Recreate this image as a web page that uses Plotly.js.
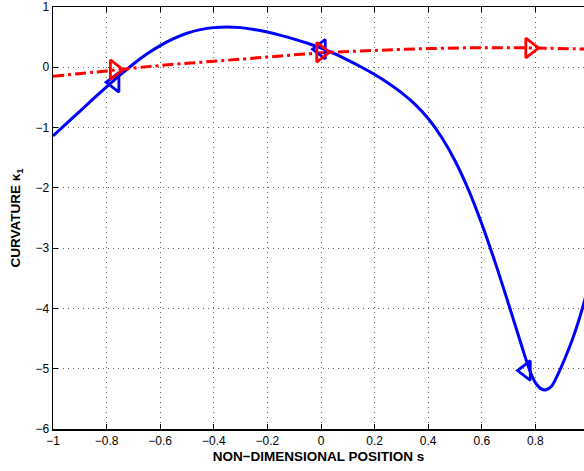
<!DOCTYPE html>
<html><head><meta charset="utf-8">
<script src="https://cdn.plot.ly/plotly-3.0.1.min.js"></script>
<style>html,body{margin:0;padding:0;overflow:hidden;background:#fff}</style>
</head><body><div id="chart" style="width:584px;height:471px"></div>
<script>
// Blue curve (kappa_1, solid)
const blueS = [-1.0, -0.95, -0.9, -0.85, -0.8, -0.75, -0.7, -0.65, -0.6, -0.55, -0.5, -0.45, -0.4, -0.35, -0.3, -0.25, -0.2, -0.15, -0.1, -0.05, 0.0, 0.05, 0.1, 0.15, 0.2, 0.25, 0.3, 0.35, 0.4, 0.45, 0.5, 0.55, 0.6, 0.65, 0.7, 0.75, 0.78, 0.8, 0.82, 0.84, 0.86, 0.88, 0.91, 0.94, 0.97, 1.0];
const blueK = [-1.14, -0.935, -0.73, -0.525, -0.325, -0.13, 0.055, 0.22, 0.36, 0.475, 0.565, 0.625, 0.658, 0.668, 0.658, 0.628, 0.584, 0.53, 0.468, 0.398, 0.32, 0.225, 0.12, 0.005, -0.12, -0.26, -0.42, -0.61, -0.85, -1.16, -1.55, -2.03, -2.60, -3.24, -3.93, -4.64, -5.04, -5.23, -5.33, -5.35, -5.29, -5.13, -4.83, -4.49, -4.08, -3.60];
// Red curve (dash-dot)
const redS = [-1.0, -0.8, -0.6, -0.4, -0.2, 0.0, 0.2, 0.4, 0.6, 0.8, 1.0];
const redK = [-0.15, -0.06, 0.03, 0.10, 0.17, 0.24, 0.28, 0.31, 0.325, 0.32, 0.30];
// Markers
const blueMarkS = [-0.77, 0.0, 0.765];
const blueMarkK = [-0.25, 0.30, -5.03];
const redMarkS = [-0.77, 0.0, 0.78];
const redMarkK = [-0.04, 0.25, 0.32];
const xTicks = [-1, -0.8, -0.6, -0.4, -0.2, 0, 0.2, 0.4, 0.6, 0.8, 1];
const yTicks = [-6, -5, -4, -3, -2, -1, 0, 1];

const traces = [
  {x: blueS, y: blueK, mode: 'lines', line: {color: '#0000ff', width: 3, shape: 'spline', smoothing: 1}, hoverinfo: 'skip'},
  {x: redS, y: redK, mode: 'lines', line: {color: '#ff0000', width: 3, dash: '11px,4px,3px,4px', shape: 'spline'}, hoverinfo: 'skip'},
  {x: blueMarkS, y: blueMarkK, mode: 'markers', marker: {symbol: 'triangle-left-open', size: 17, color: '#0000ff', line: {width: 2.8, color: '#0000ff'}}},
  {x: redMarkS, y: redMarkK, mode: 'markers', marker: {symbol: 'triangle-right-open', size: 17, color: '#ff0000', line: {width: 2.8, color: '#ff0000'}}}
];

const axisFont = {family: 'Liberation Sans, Arial, sans-serif', size: 12, color: '#000'};
const titleFont = {family: 'Liberation Sans, Arial, sans-serif', size: 13.5, color: '#000'};
const layout = {
  width: 584, height: 471,
  margin: {l: 53, r: 0, t: 7, b: 42},
  showlegend: false,
  paper_bgcolor: '#fff', plot_bgcolor: '#fff',
  font: axisFont,
  xaxis: {
    range: [-1, 0.9813], tickvals: xTicks, ticktext: xTicks.map(v => v === 0 ? '0' : String(v).replace('-', '\u2212')),
    ticks: 'inside', ticklen: 5, tickcolor: '#000', tickwidth: 1,
    showline: true, linecolor: '#000', linewidth: 1.5, mirror: 'ticks',
    showgrid: true, gridcolor: '#666', griddash: '1px,4px', gridwidth: 1, zeroline: false,
    tickfont: axisFont,
    title: {text: '<b>NON\u2212DIMENSIONAL POSITION s</b>', font: titleFont, standoff: 4}
  },
  yaxis: {
    range: [-6, 1], tickvals: yTicks,
    ticks: 'inside', ticklen: 5, tickcolor: '#000', tickwidth: 1,
    showline: true, linecolor: '#000', linewidth: 1.5, mirror: false,
    showgrid: true, gridcolor: '#666', griddash: '1px,4px', gridwidth: 1, zeroline: false,
    tickfont: axisFont,
    title: {text: '<b>CURVATURE \u03ba<sub>1</sub></b>', font: titleFont, standoff: 11}
  }
};
Plotly.newPlot('chart', traces, layout, {staticPlot: true, displayModeBar: false});
</script></body></html>
